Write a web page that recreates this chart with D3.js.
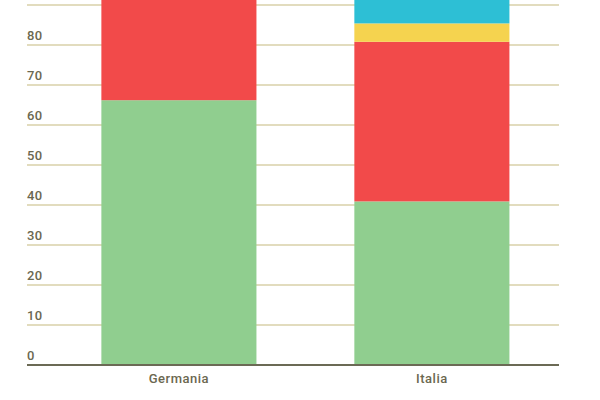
<!DOCTYPE html>
<html>
<head>
<meta charset="utf-8">
<script src="https://cdn.jsdelivr.net/npm/d3@7"></script>
<style>
  html, body { margin: 0; padding: 0; background: #fff; }
  svg { display: block; font-family: Roboto, "Noto Sans", sans-serif; }
</style>
</head>
<body>
<div id="chart"></div>
<script>
// Data (stacked shares, %)
const countries = ["Germania", "Italia"];
const seriesKeys = ["verde", "rosso", "giallo", "azzurro"];
const verde = [66.2, 40.9];
const rosso = [33.8, 39.9];
const giallo = [0, 4.6];
const azzurro = [0, 14.6];
const yTicks = [0, 10, 20, 30, 40, 50, 60, 70, 80, 90, 100];

const colors = {
  verde: "#90ce8f",
  rosso: "#f24a4a",
  giallo: "#f5d34f",
  azzurro: "#2dbfd5",
};

const width = 600;
const height = 400;
const margin = { top: -35, right: 41, bottom: 35, left: 27 };
const innerW = width - margin.left - margin.right;
const innerH = height - margin.top - margin.bottom;

const rows = countries.map((c, i) => ({
  country: c,
  verde: verde[i],
  rosso: rosso[i],
  giallo: giallo[i],
  azzurro: azzurro[i],
}));

const stack = d3.stack().keys(seriesKeys)(rows);

const x = d3
  .scaleBand()
  .domain(countries)
  .range([0, innerW])
  .paddingInner(0.387)
  .paddingOuter(0.245)
  .align(0.6);

const y = d3.scaleLinear().domain([0, 100]).range([innerH, 0]);

const svg = d3
  .select("#chart")
  .append("svg")
  .attr("width", width)
  .attr("height", height);

const g = svg
  .append("g")
  .attr("transform", `translate(${margin.left},${margin.top})`);

// Grid lines with labels sitting above them
const yAxis = g.append("g").attr("class", "y-axis");

yAxis
  .selectAll("line")
  .data(yTicks.filter((d) => d > 0))
  .enter()
  .append("line")
  .attr("x1", 0)
  .attr("x2", innerW)
  .attr("y1", (d) => y(d))
  .attr("y2", (d) => y(d))
  .attr("stroke", "#d8d0a8")
  .attr("stroke-width", 1.5);

yAxis
  .selectAll("text")
  .data(yTicks)
  .enter()
  .append("text")
  .attr("x", 0)
  .attr("y", (d) => y(d) - 5)
  .attr("fill", "#6b6850")
  .style("font-size", "13px")
  .style("font-weight", 500)
  .style("letter-spacing", "0.3px")
  .text((d) => d);

// Stacked bars
g.append("g")
  .selectAll("g")
  .data(stack)
  .enter()
  .append("g")
  .attr("fill", (s) => colors[s.key])
  .selectAll("rect")
  .data((s) => s)
  .enter()
  .append("rect")
  .attr("x", (d) => x(d.data.country))
  .attr("y", (d) => y(d[1]))
  .attr("width", x.bandwidth())
  .attr("height", (d) => y(d[0]) - y(d[1]));

// Baseline
g.append("line")
  .attr("x1", 0)
  .attr("x2", innerW)
  .attr("y1", y(0))
  .attr("y2", y(0))
  .attr("stroke", "#6b6a55")
  .attr("stroke-width", 2);

// Category labels
const xAxis = d3.axisBottom(x).tickSize(0).tickPadding(9);

g.append("g")
  .attr("class", "x-axis")
  .attr("transform", `translate(0,${y(0)})`)
  .call(xAxis)
  .call((sel) => sel.select(".domain").remove())
  .selectAll("text")
  .attr("fill", "#6b6850")
  .style("font-family", "Roboto, sans-serif")
  .style("font-size", "13px")
  .style("font-weight", 500)
  .style("letter-spacing", "0.5px");
</script>
</body>
</html>
